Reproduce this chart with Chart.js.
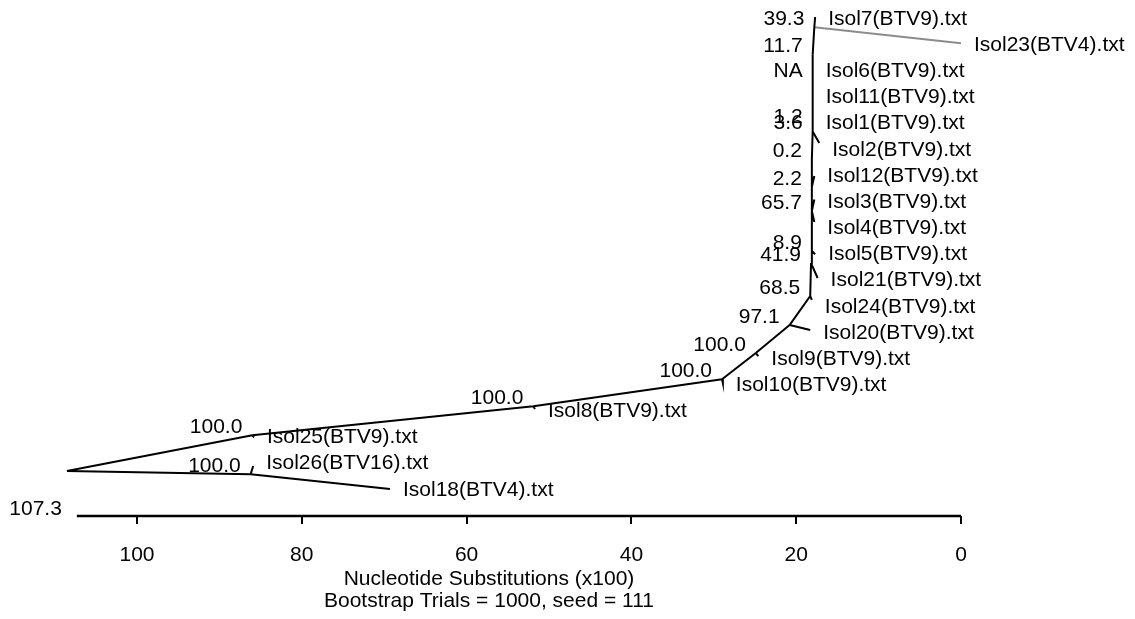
<!DOCTYPE html>
<html>
<head>
<meta charset="utf-8">
<script src="https://cdn.jsdelivr.net/npm/chart.js@4.4.1/dist/chart.umd.min.js"></script>
<style>
  html, body { margin: 0; padding: 0; background: #ffffff; }
  #wrap { width: 1135px; height: 619px; }
</style>
</head>
<body>
<div id="wrap"><canvas id="tree" width="1135" height="619"></canvas></div>
<script>
// Internal nodes: id, parent, distance (nucleotide substitutions x100), layout row, bootstrap support
const nodeIds     = ['root', 'a', 'b', 'c', 'd', 'e', 'f', 'g', 'h', 'i', 'j', 'k', 'l', 'm', 'n', 'o', 'p', 'q'];
const nodeParents = [null, 'root', 'root', 'a', 'c', 'd', 'e', 'f', 'g', 'h', 'i', 'j', 'k', 'l', 'm', 'n', 'o', 'p'];
const nodeDist    = [108.5, 86.0, 86.2, 51.9, 29.0, 24.9, 20.8, 18.3, 18.2, 18.1, 18.1, 18.1, 18.1, 18.0, 18.0, 18.0, 18.0, 17.8];
const nodeRows    = [17.28, 15.91, 17.40, 14.80, 13.77, 12.77, 11.70, 10.59, 9.33, 8.87, 7.34, 6.42, 5.37, 4.30, 4.05, 2.31, 1.36, 0.31];
const bootstrap   = ['', '100.0', '100.0', '100.0', '100.0', '100.0', '97.1', '68.5', '41.9', '8.9', '65.7', '2.2', '0.2', '3.6', '1.2', 'NA', '11.7', '39.3'];

// Leaves, listed top to bottom (list index = label row)
const taxa = ['Isol7(BTV9).txt', 'Isol23(BTV4).txt', 'Isol6(BTV9).txt', 'Isol11(BTV9).txt', 'Isol1(BTV9).txt',
              'Isol2(BTV9).txt', 'Isol12(BTV9).txt', 'Isol3(BTV9).txt', 'Isol4(BTV9).txt', 'Isol5(BTV9).txt',
              'Isol21(BTV9).txt', 'Isol24(BTV9).txt', 'Isol20(BTV9).txt', 'Isol9(BTV9).txt', 'Isol10(BTV9).txt',
              'Isol8(BTV9).txt', 'Isol25(BTV9).txt', 'Isol26(BTV16).txt', 'Isol18(BTV4).txt'];
const taxonParents = ['q', 'q', 'o', 'o', 'n', 'm', 'k', 'j', 'j', 'i', 'h', 'g', 'f', 'e', 'd', 'c', 'a', 'b', 'b'];
const taxonDist    = [17.7, 0.0, 18.0, 18.0, 18.0, 17.2, 17.8, 17.8, 17.8, 17.7, 17.4, 18.1, 18.3, 24.6, 28.9, 51.7, 85.8, 85.9, 69.3];
const taxonTipRows = [-0.08, 0.92, 2.0, 3.0, 4.0, 4.74, 6.0, 6.9, 7.76, 8.99, 9.90, 10.74, 11.89, 12.89, 13.92, 14.91, 16.0, 17.09, 17.97];
const outlierTaxa  = ['Isol23(BTV4).txt'];

// Distance scale
const distanceTicks = [0, 20, 40, 60, 80, 100];
const treeLength = 107.3;
const axisTitle = ['Nucleotide Substitutions (x100)', 'Bootstrap Trials = 1000, seed = 111'];

const FONT = '"Liberation Sans", Arial, Helvetica, sans-serif';
const INK = '#000';
const axisRow = 19.0;

// Build branch polylines (gaps separate branches)
const gap = { x: null, y: null };
const nodePoint = id => {
  const i = nodeIds.indexOf(id);
  return { x: nodeDist[i], y: nodeRows[i] };
};
const mainBranches = [];
const outlierBranches = [];
nodeIds.forEach((id, i) => {
  if (!nodeParents[i]) return;
  mainBranches.push(nodePoint(nodeParents[i]), { x: nodeDist[i], y: nodeRows[i] }, gap);
});
taxa.forEach((t, i) => {
  const target = outlierTaxa.includes(t) ? outlierBranches : mainBranches;
  target.push(nodePoint(taxonParents[i]), { x: taxonDist[i], y: taxonTipRows[i] }, gap);
});

const treeLabels = {
  id: 'treeLabels',
  afterDatasetsDraw(chart) {
    const { ctx, scales: { x, y } } = chart;
    ctx.save();
    ctx.font = '21px ' + FONT;
    ctx.fillStyle = INK;
    ctx.textBaseline = 'middle';
    // bootstrap support, to the upper left of each node
    ctx.textAlign = 'right';
    nodeIds.forEach((id, i) => {
      if (!bootstrap[i]) return;
      ctx.fillText(bootstrap[i], x.getPixelForValue(nodeDist[i]) - 10, y.getPixelForValue(nodeRows[i]) - 8);
    });
    // total tree length at the start of the scale bar
    ctx.fillText(treeLength.toFixed(1), x.getPixelForValue(treeLength) - 15, y.getPixelForValue(axisRow) - 7);
    // taxon names beside their tips
    ctx.textAlign = 'left';
    taxa.forEach((t, i) => {
      ctx.fillText(t, x.getPixelForValue(taxonDist[i]) + 13, y.getPixelForValue(i));
    });
    ctx.restore();
  }
};

new Chart(document.getElementById('tree'), {
  type: 'scatter',
  data: {
    datasets: [
      { data: mainBranches, showLine: true, spanGaps: false, borderColor: INK, borderWidth: 2, pointRadius: 0, clip: false },
      { data: outlierBranches, showLine: true, spanGaps: false, borderColor: '#8c8c8c', borderWidth: 2, pointRadius: 0, clip: false },
      { data: [{ x: treeLength, y: axisRow }, { x: 0, y: axisRow }], showLine: true, borderColor: INK, borderWidth: 2.5, pointRadius: 0, clip: false }
    ]
  },
  options: {
    responsive: false,
    animation: false,
    devicePixelRatio: 1,
    layout: { padding: { top: 6, left: 17, right: 174, bottom: 0 } },
    plugins: { legend: { display: false }, tooltip: { enabled: false } },
    scales: {
      x: {
        type: 'linear',
        position: 'bottom',
        reverse: true,
        min: 0,
        max: 114.56,
        afterBuildTicks(scale) { scale.ticks = distanceTicks.map(v => ({ value: v })); },
        afterFit(scale) { scale.height = 103; },
        border: { display: false },
        grid: { drawOnChartArea: false, drawTicks: true, tickLength: 8, color: INK, lineWidth: 2 },
        ticks: { color: INK, padding: 19, autoSkip: false, maxRotation: 0, font: { family: FONT, size: 21 } },
        title: {
          display: true,
          text: axisTitle,
          color: INK,
          font: { family: FONT, size: 21, lineHeight: 1.05 },
          padding: { top: 0, bottom: 7 }
        }
      },
      y: {
        type: 'linear',
        reverse: true,
        min: -0.5,
        max: axisRow,
        display: false
      }
    }
  },
  plugins: [treeLabels]
});
</script>
</body>
</html>
